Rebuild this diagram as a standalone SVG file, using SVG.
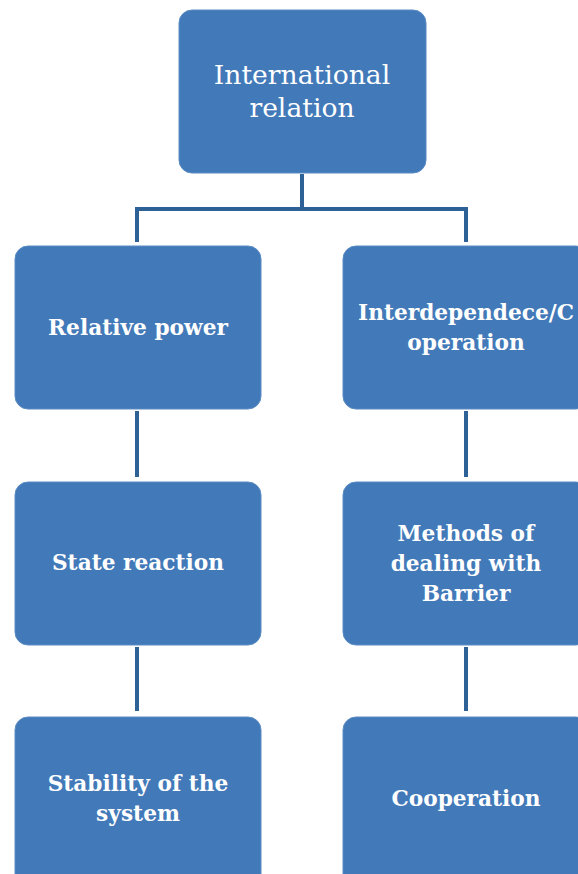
<svg xmlns="http://www.w3.org/2000/svg" width="578" height="874" viewBox="0 0 578 874">
<style>
.box{fill:#4279b8;stroke:#5a8cc4;stroke-width:1}
.t{font-family:"DejaVu Serif","Liberation Serif",serif;fill:#ffffff;text-anchor:middle}
.b{font-weight:bold;font-size:21.7px}
.h{font-size:26.6px}
.c{stroke:#2e6196;stroke-width:4;fill:none}
</style>
<rect width="578" height="874" fill="#ffffff"/>
<g id="connectors">
<path class="c" d="M302 174V209M137 209H466M137 207V242M466 207V242"/>
<path class="c" d="M137 411V477M466 411V477M137 647V711M466 647V711"/>
</g>
<g id="n-top"><rect class="box" x="179" y="10" width="247" height="163" rx="13"/>
<text class="t h" x="302" y="84">International</text><text class="t h" x="302" y="117">relation</text></g>
<g id="n-rel"><rect class="box" x="15" y="246" width="246" height="163" rx="13"/>
<text class="t b" x="138" y="335">Relative power</text></g>
<g id="n-inter"><rect class="box" x="343" y="246" width="246" height="163" rx="13"/>
<text class="t b" x="466" y="320">Interdependece/C</text><text class="t b" x="466" y="350">operation</text></g>
<g id="n-state"><rect class="box" x="15" y="482" width="246" height="163" rx="13"/>
<text class="t b" x="138" y="570">State reaction</text></g>
<g id="n-methods"><rect class="box" x="343" y="482" width="246" height="163" rx="13"/>
<text class="t b" x="466" y="541">Methods of</text><text class="t b" x="466" y="571">dealing with</text><text class="t b" x="466" y="601">Barrier</text></g>
<g id="n-stab"><rect class="box" x="15" y="717" width="246" height="170" rx="13"/>
<text class="t b" x="138" y="791">Stability of the</text><text class="t b" x="138" y="821">system</text></g>
<g id="n-coop"><rect class="box" x="343" y="717" width="246" height="170" rx="13"/>
<text class="t b" x="466" y="806">Cooperation</text></g>
</svg>
